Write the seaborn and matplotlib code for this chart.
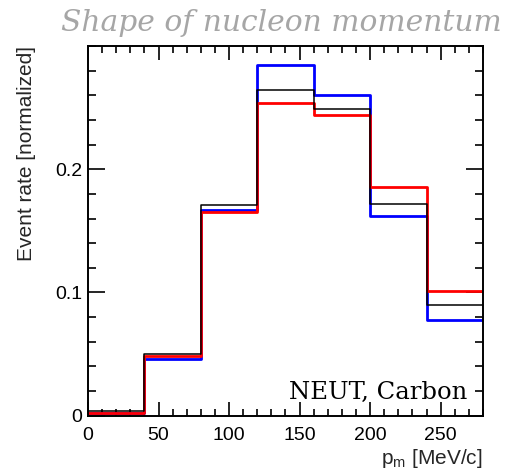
import numpy as np
import pandas as pd
import matplotlib
matplotlib.use("Agg")
import matplotlib.pyplot as plt
import seaborn as sns
from matplotlib.ticker import MultipleLocator

# Nucleon momentum bins (MeV/c)
bin_edges = [0, 40, 80, 120, 160, 200, 240, 280]
bin_centers = [20, 60, 100, 140, 180, 220, 260]

# Normalized event rates per bin for each model
rate_black = [0.0035, 0.0499, 0.1710, 0.2641, 0.2490, 0.1716, 0.0897]
rate_blue = [0.0025, 0.0463, 0.1670, 0.2846, 0.2606, 0.1617, 0.0776]
rate_red = [0.0022, 0.0485, 0.1650, 0.2536, 0.2439, 0.1859, 0.1008]

x_ticks = [0, 50, 100, 150, 200, 250]
y_ticks = [0, 0.1, 0.2]
y_tick_labels = ["0", "0.1", "0.2"]

sns.set_style("ticks")
plt.rcParams["font.family"] = ["Liberation Sans", "DejaVu Sans"]
plt.rcParams["mathtext.fontset"] = "custom"
plt.rcParams["mathtext.rm"] = "Liberation Sans"

fig = plt.figure(figsize=(5.08, 4.70), dpi=100)
ax = fig.add_axes([0.1732, 0.1155, 0.7776, 0.7866])

df = pd.DataFrame({
    "p": bin_centers * 3,
    "w": rate_blue + rate_red + rate_black,
    "model": ["blue"] * 7 + ["red"] * 7 + ["black"] * 7,
})

for name, color, lw in [("blue", "#0000ff", 2.0), ("red", "#ff0000", 2.0), ("black", "#000000", 1.1)]:
    sub = df[df["model"] == name]
    sns.histplot(data=sub, x="p", weights="w", bins=bin_edges, element="step",
                 fill=False, color=color, linewidth=lw, ax=ax)

ax.set_xlim(0, 280)
ax.set_ylim(0, 0.3)
ax.set_xticks(x_ticks)
ax.set_xticklabels([str(t) for t in x_ticks])
ax.set_yticks(y_ticks)
ax.set_yticklabels(y_tick_labels)
ax.xaxis.set_minor_locator(MultipleLocator(10))
ax.yaxis.set_minor_locator(MultipleLocator(0.02))

ax.tick_params(which="both", direction="in", top=True, right=True, width=1.2, colors="black", labelsize=14)
ax.tick_params(axis="x", which="major", length=10, pad=8)
ax.tick_params(axis="x", which="minor", length=5)
ax.tick_params(axis="y", which="major", length=12, pad=4)
ax.tick_params(axis="y", which="minor", length=6)
for s in ax.spines.values():
    s.set_linewidth(1.4)
    s.set_color("black")

ax.set_xlabel(r"p$_\mathregular{m}$ [MeV/c]", fontsize=15, loc="right", labelpad=2)
ax.set_ylabel("Event rate [normalized]", fontsize=15, loc="top", labelpad=14)

ax.text(0.96, 0.045, "NEUT, Carbon", transform=ax.transAxes, ha="right", va="baseline",
        fontsize=17.5, family="DejaVu Serif", color="black")

fig.text(61 / 508, 1 - 31 / 470, "Shape of nucleon momentum", ha="left", va="baseline",
         fontsize=21.4, family="DejaVu Serif", style="italic", color="#a6a6a6")

fig.savefig("out.png", dpi=100)
